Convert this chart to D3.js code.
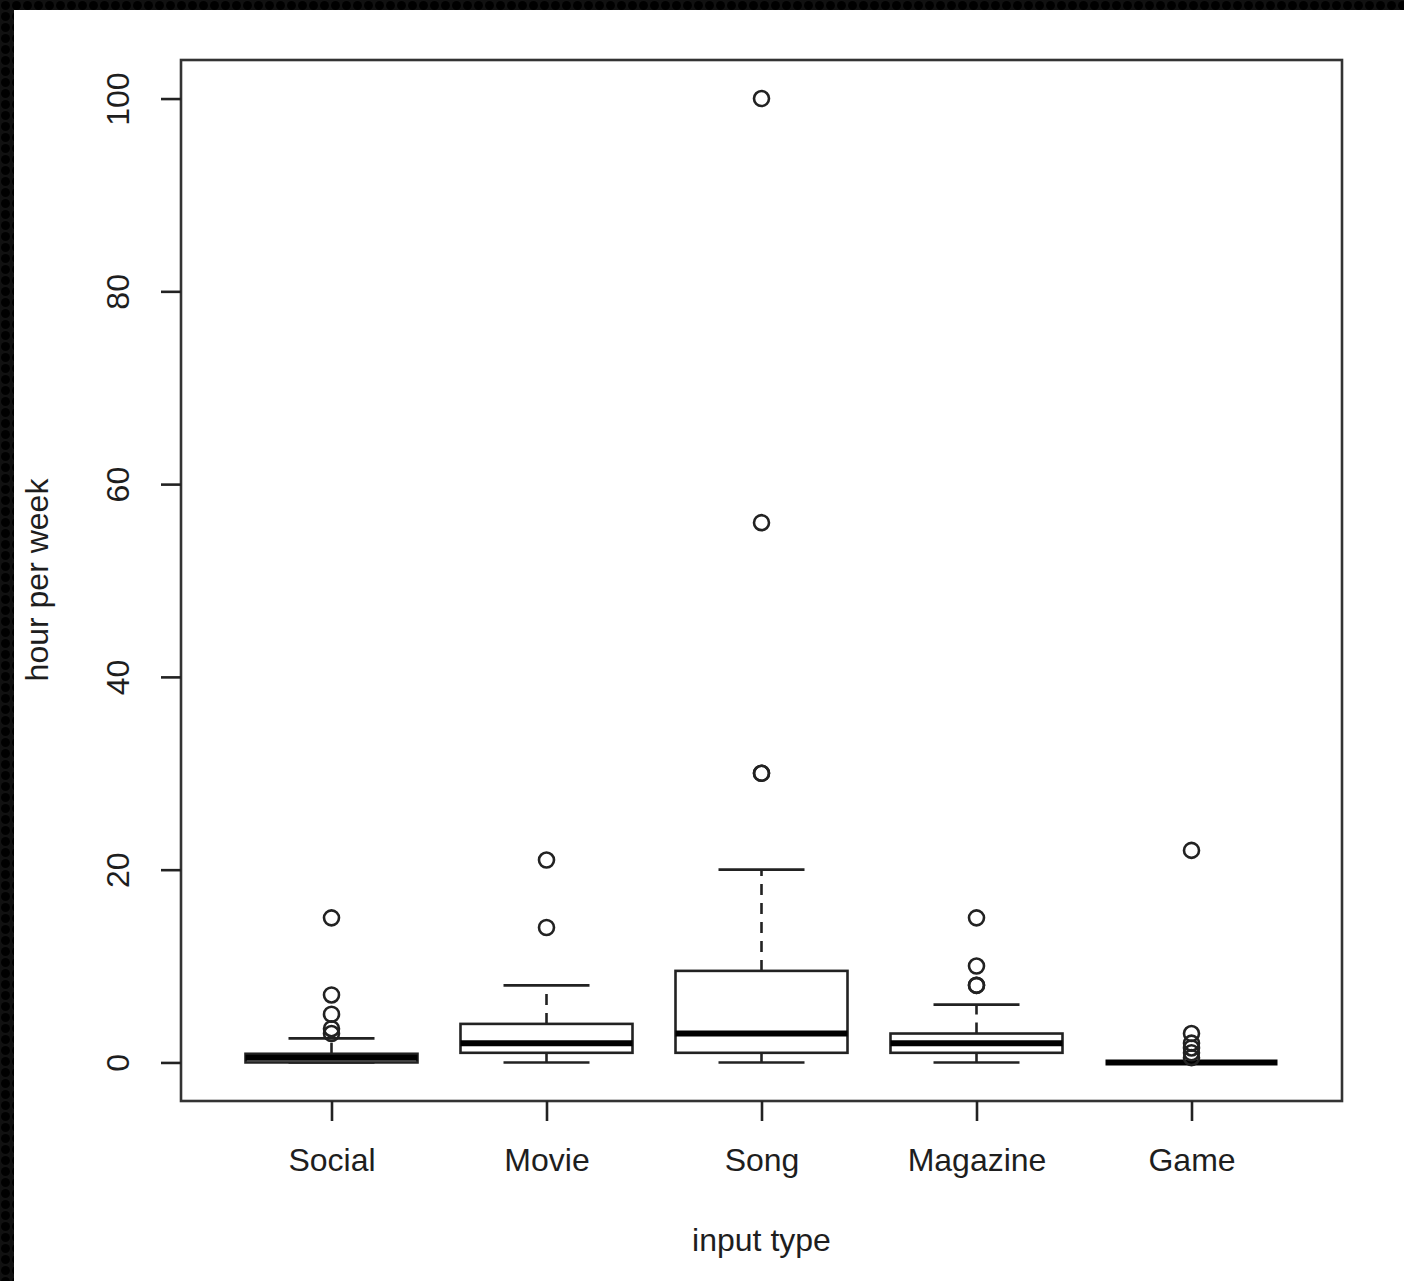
<!DOCTYPE html>
<html>
<head>
<meta charset="utf-8">
<script src="https://cdn.jsdelivr.net/npm/d3@7"></script>
<style>
  body { margin: 0; background: #fff; }
  text { font-family: "Liberation Sans", Arial, sans-serif; fill: #1e1e1e; }
</style>
</head>
<body>
<script>
//Data
    const categories = ["Social", "Movie", "Song", "Magazine", "Game"];
    const whiskerLow = [0, 0, 0, 0, 0];
    const q1 = [0, 1, 1, 1, 0];
    const median = [0.5, 2, 3, 2, 0];
    const q3 = [0.9, 4, 9.5, 3, 0];
    const whiskerHigh = [2.5, 8, 20, 6, 0];
    const outliers = [
        [15, 7, 5, 3.5, 3],
        [21, 14],
        [100, 56, 30, 30],
        [15, 10, 8, 8],
        [22, 3, 2, 1.5, 1, 0.5]
    ];
    const yTicks = [0, 20, 40, 60, 80, 100];

//Consts
    const width = 1404;
    const height = 1281;
    const plot = {left: 181, right: 1342, top: 60, bottom: 1101};
    const fontSize = 32;

    const svg = d3.select("body")
                  .append("svg")
                  .attr("width", width)
                  .attr("height", height);

//dotted black border top and left
    const defs = svg.append("defs");
    const pat = defs.append("pattern")
        .attr("id", "dots")
        .attr("width", 11).attr("height", 11)
        .attr("patternUnits", "userSpaceOnUse");
    pat.append("rect").attr("width", 11).attr("height", 11).attr("fill", "#111");
    pat.append("circle").attr("cx", 5.5).attr("cy", 5.5).attr("r", 4.5).attr("fill", "#000");
    svg.append("rect").attr("x", 0).attr("y", 0).attr("width", width).attr("height", 10).attr("fill", "url(#dots)");
    svg.append("rect").attr("x", 0).attr("y", 0).attr("width", 14).attr("height", height).attr("fill", "url(#dots)");

//Scales - R style 4% padding
    const xScale = d3.scaleLinear()
                     .domain([0.3, 5.7])
                     .range([plot.left, plot.right]);
    const yScale = d3.scaleLinear()
                     .domain([-4, 104])
                     .range([plot.bottom, plot.top]);

    const boxW = 0.8 * (xScale(2) - xScale(1));
    const capW = boxW / 2;
    const stroke = "#222";
    const lw = 2.6;

//Boxes
    const data = categories.map((c, i) => ({
        name: c, pos: i + 1,
        lo: whiskerLow[i], q1: q1[i], med: median[i], q3: q3[i], hi: whiskerHigh[i],
        out: outliers[i]
    }));

    const g = svg.append("g");
    const box = g.selectAll("g.box")
                 .data(data)
                 .enter()
                 .append("g")
                 .attr("class", "box");

    //whiskers - dashed
    box.append("line")
        .attr("x1", d => xScale(d.pos)).attr("x2", d => xScale(d.pos))
        .attr("y1", d => yScale(d.q3)).attr("y2", d => yScale(d.hi))
        .attr("stroke", stroke).attr("stroke-width", lw)
        .attr("stroke-dasharray", "11,8");
    box.append("line")
        .attr("x1", d => xScale(d.pos)).attr("x2", d => xScale(d.pos))
        .attr("y1", d => yScale(d.q1)).attr("y2", d => yScale(d.lo))
        .attr("stroke", stroke).attr("stroke-width", lw)
        .attr("stroke-dasharray", "11,8");
    //caps
    box.append("line")
        .attr("x1", d => xScale(d.pos) - capW / 2).attr("x2", d => xScale(d.pos) + capW / 2)
        .attr("y1", d => yScale(d.hi)).attr("y2", d => yScale(d.hi))
        .attr("stroke", stroke).attr("stroke-width", lw);
    box.append("line")
        .attr("x1", d => xScale(d.pos) - capW / 2).attr("x2", d => xScale(d.pos) + capW / 2)
        .attr("y1", d => yScale(d.lo)).attr("y2", d => yScale(d.lo))
        .attr("stroke", stroke).attr("stroke-width", lw);
    //box
    box.append("rect")
        .attr("x", d => xScale(d.pos) - boxW / 2)
        .attr("y", d => yScale(d.q3))
        .attr("width", boxW)
        .attr("height", d => Math.max(0, yScale(d.q1) - yScale(d.q3)))
        .attr("fill", "#fff")
        .attr("stroke", stroke).attr("stroke-width", lw);
    //median
    box.append("line")
        .attr("x1", d => xScale(d.pos) - boxW / 2).attr("x2", d => xScale(d.pos) + boxW / 2)
        .attr("y1", d => yScale(d.med)).attr("y2", d => yScale(d.med))
        .attr("stroke", "#000").attr("stroke-width", 6);
    //outliers
    box.selectAll("circle")
        .data(d => d.out.map(v => ({pos: d.pos, v: v})))
        .enter()
        .append("circle")
        .attr("cx", d => xScale(d.pos))
        .attr("cy", d => yScale(d.v))
        .attr("r", 7.5)
        .attr("fill", "none")
        .attr("stroke", stroke).attr("stroke-width", 2.6);

//Frame
    svg.append("rect")
        .attr("x", plot.left).attr("y", plot.top)
        .attr("width", plot.right - plot.left)
        .attr("height", plot.bottom - plot.top)
        .attr("fill", "none")
        .attr("stroke", "#333").attr("stroke-width", lw);

//Axes
    const leftAxis = d3.axisLeft(yScale)
                       .tickValues(yTicks)
                       .tickSize(20)
                       .tickPadding(0)
                       .tickFormat(d3.format("d"));
    const yAxis = svg.append("g")
        .attr("transform", "translate(" + plot.left + ",0)")
        .call(leftAxis);
    yAxis.select(".domain").remove();
    yAxis.selectAll("line").attr("stroke", stroke).attr("stroke-width", lw);
    yAxis.selectAll("text")
        .attr("font-size", fontSize)
        .attr("fill", "#1e1e1e")
        .attr("text-anchor", "middle")
        .attr("x", 0).attr("dy", 0)
        .attr("transform", "translate(-60,0) rotate(-90)")
        .attr("dominant-baseline", "middle");

    const bottomAxis = d3.axisBottom(xScale)
                         .tickValues(data.map(d => d.pos))
                         .tickSize(20)
                         .tickPadding(0)
                         .tickFormat((d, i) => categories[i]);
    const xAxis = svg.append("g")
        .attr("transform", "translate(0," + plot.bottom + ")")
        .call(bottomAxis);
    xAxis.select(".domain").remove();
    xAxis.selectAll("line").attr("stroke", stroke).attr("stroke-width", lw);
    xAxis.selectAll("text")
        .attr("font-size", fontSize)
        .attr("fill", "#1e1e1e")
        .attr("y", 62).attr("dy", 0)
        .attr("dominant-baseline", "middle");

//Axis titles
    svg.append("text")
        .attr("x", (plot.left + plot.right) / 2)
        .attr("y", 1243)
        .attr("text-anchor", "middle")
        .attr("dominant-baseline", "middle")
        .attr("font-size", fontSize)
        .text("input type");

    svg.append("text")
        .attr("transform", "translate(40," + 580 + ") rotate(-90)")
        .attr("text-anchor", "middle")
        .attr("dominant-baseline", "middle")
        .attr("font-size", fontSize)
        .text("hour per week");
</script>
</body>
</html>
